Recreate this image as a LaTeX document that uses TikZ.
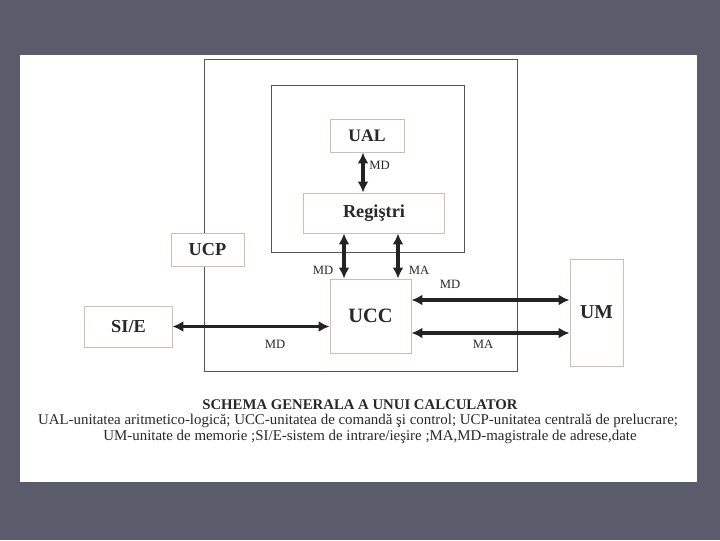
\documentclass[tikz,border=0pt]{standalone}
\usepackage{fontspec}
\setmainfont{Liberation Serif}
\usetikzlibrary{arrows.meta,positioning}
\definecolor{fundal}{RGB}{91,92,107}
\definecolor{chenar}{RGB}{214,188,174}
\definecolor{linie}{RGB}{85,85,85}
\definecolor{sageata}{RGB}{35,35,35}
\definecolor{scris}{RGB}{40,40,40}

\begin{document}
\begin{tikzpicture}[x=0.025cm,y=-0.025cm,>={Latex[length=2.7mm,width=2.7mm]}]
  \tikzstyle{bloc}=[draw=chenar,fill=white,line width=0.7pt,inner sep=0pt,text=scris,font=\fontsize{13}{15}\selectfont\bfseries]
  \tikzstyle{bus}=[draw=sageata,line width=2.2pt,<->]
  \tikzstyle{eticheta}=[text=scris,inner sep=0pt,font=\fontsize{9}{11}\selectfont]
  % fundal si pagina
  \fill[fundal] (0,0) rectangle (720,540);
  \fill[white] (20,55) rectangle (697,482);
  \useasboundingbox (0,0) rectangle (720,540);
  % UCP si zona UAL + registri
  \draw[linie,line width=0.7pt] (204,59) rectangle (517,371);
  \draw[linie,line width=0.7pt] (271,85) rectangle (464,252);
  % blocuri
  \node[bloc,minimum width=1.85cm,minimum height=0.825cm,font=\fontsize{12.5}{15}\selectfont\bfseries] (ual) at (367,135.5) {UAL};
  \node[bloc,minimum width=3.5cm,minimum height=1cm] (reg) at (374,213) {Regiştri};
  \node[bloc,minimum width=2.025cm,minimum height=1.85cm,font=\fontsize{14.5}{17}\selectfont\bfseries] (ucc) at (370.5,316) {UCC};
  \node[bloc,minimum width=1.825cm,minimum height=0.825cm] (ucp) at (207.5,249.5) {UCP};
  \node[bloc,minimum width=2.175cm,minimum height=1.025cm] (sie) at (128.5,326.5) {SI/E};
  \node[bloc,minimum width=1.325cm,minimum height=2.675cm,font=\fontsize{14}{17}\selectfont\bfseries] (um) at (596.5,312.5) {UM};
  % magistrale
  \coordinate (xmd) at (344,0);
  \coordinate (xma) at (398,0);
  \coordinate (ymd) at (0,300);
  \coordinate (yma) at (0,333);
  \draw[bus] ([xshift=-0.1cm]ual.south) -- ([xshift=-0.1cm]ual.south |- reg.north);
  \draw[bus] (reg.south -| xmd) -- (ucc.north -| xmd);
  \draw[bus] (reg.south -| xma) -- (ucc.north -| xma);
  \draw[bus] (sie.east) -- (sie.east -| ucc.west);
  \draw[bus] (ucc.east |- ymd) -- (um.west |- ymd);
  \draw[bus] (ucc.east |- yma) -- (um.west |- yma);
  % etichete
  \node[eticheta,anchor=west] (l1) at (369,165) {MD};
  \node[eticheta] (l2) at (323,270) {MD};
  \node[eticheta] (l3) at (419,270) {MA};
  \node[eticheta] (l4) at (450,284) {MD};
  \node[eticheta] (l5) at (483,344) {MA};
  \node[eticheta] (l6) at (275,344) {MD};
  % legenda
  \node[text=scris,font=\fontsize{10.5}{12}\selectfont\bfseries] (titlu) at (360,405) {SCHEMA GENERALA A UNUI CALCULATOR};
  \node[text=scris,font=\fontsize{10.6}{12}\selectfont] (r1) at (358,421) {UAL-unitatea aritmetico-logică; UCC-unitatea de comandă şi control; UCP-unitatea centrală de prelucrare;};
  \node[text=scris,font=\fontsize{10.6}{12}\selectfont] (r2) at (370,437) {UM-unitate de memorie ;SI/E-sistem de intrare/ieşire ;MA,MD-magistrale de adrese,date};
\end{tikzpicture}
\end{document}
